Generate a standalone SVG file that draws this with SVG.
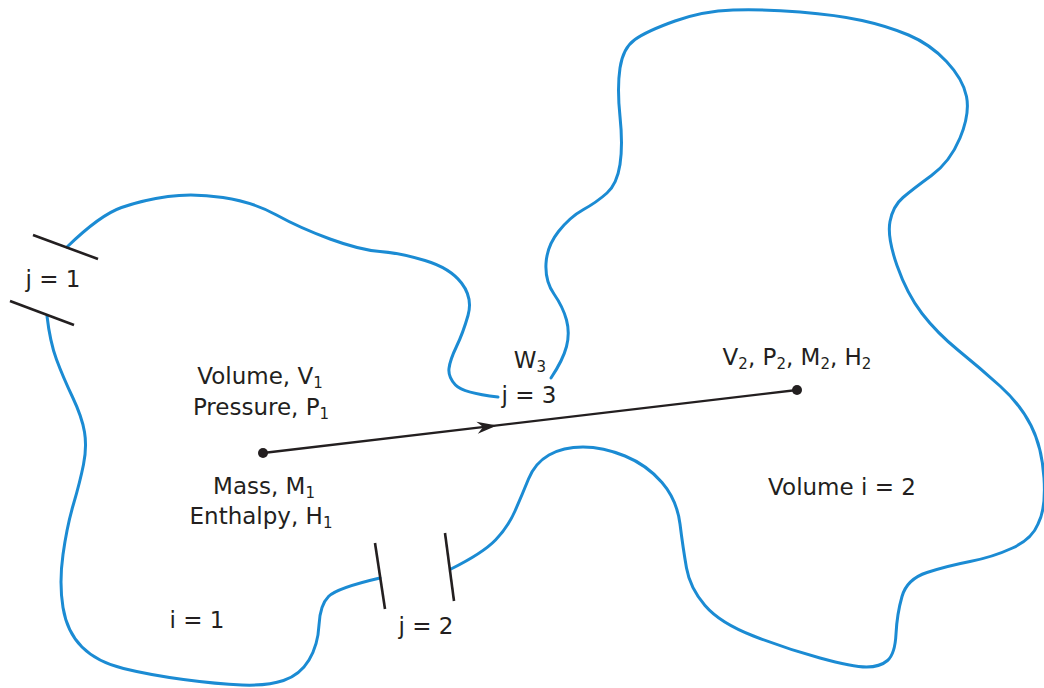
<svg xmlns="http://www.w3.org/2000/svg" width="1044" height="688" viewBox="0 0 1044 688">
<defs>
<style>
.wall{fill:none;stroke:#1b8bd3;stroke-width:3;stroke-linecap:round;stroke-linejoin:round}
.tick{stroke:#231f20;stroke-width:2.6;stroke-linecap:butt}
.lbl{font-family:"DejaVu Sans","Liberation Sans",sans-serif;font-size:23px;fill:#231f20;text-anchor:middle}
.sub{font-size:15px}
.conn{stroke:#231f20;stroke-width:2.4;fill:none}
.dot{fill:#231f20}
</style>
</defs>
<rect width="1044" height="688" fill="#ffffff"/>
<g id="volume-1">
<path class="wall" d="M67,247 Q100,215 121.5,207.5 Q143,200 168,196.5 Q193,193 223,197.5 Q253,202 276.5,215 Q300,228 330,239 Q360,250 380,251.5 Q400,253 425,260.5 Q450,268 461.5,283 Q473,298 468,315.5 Q463,333 456.5,346.5 Q450,360 449,368.5 Q448,377 455.5,385 Q463,393 498,397"/>
<path class="wall" d="M47,316 Q50,342 56.5,359.5 Q63,377 72.5,397 Q82,417 84.5,432 Q87,447 83.5,464.5 Q80,482 73.5,504 Q67,526 63,554.5 Q59,583 63,607.5 Q67,632 82,647 Q97,662 123.5,668.5 Q150,675 183.5,679.5 Q217,684 242,685 Q267,686 283.5,680.5 Q300,675 309,660 Q318,645 319,625 Q320,605 328.5,596.5 Q337,588 380,578"/>
<text class="lbl" x="260" y="384">Volume, V<tspan class="sub" dy="4">1</tspan></text>
<text class="lbl" x="261" y="415">Pressure, P<tspan class="sub" dy="4">1</tspan></text>
<text class="lbl" x="264" y="494">Mass, M<tspan class="sub" dy="4">1</tspan></text>
<text class="lbl" x="261" y="524">Enthalpy, H<tspan class="sub" dy="4">1</tspan></text>
<text class="lbl" x="197" y="628">i = 1</text>
</g>
<g id="volume-2">
<path class="wall" d="M451,569 Q483,553 495.5,540 Q508,527 515,511 Q522,495 528.5,479 Q535,463 549,455 Q563,447 583,447 Q603,447 625,456 Q647,465 662,482.5 Q677,500 680,524 Q683,548 686.5,568 Q690,588 705,605.5 Q720,623 753.5,636 Q787,649 820,658 Q853,667 866.5,667 Q880,667 887.5,660.5 Q895,654 896,634 Q897,614 902,596.5 Q907,579 927,572.5 Q947,566 970,561.5 Q993,557 1012.5,548 Q1032,539 1038,524 Q1046,509 1044,478 Q1042,447 1031,425.5 Q1020,404 1000,386 Q980,368 958.5,350.5 Q937,333 922,313.5 Q907,294 897,265.5 Q887,237 890,221.5 Q893,206 903,197.5 Q913,189 931.5,175.5 Q950,162 960,138 Q970,114 966.5,96.5 Q963,79 946.5,61.5 Q930,44 908.5,35 Q887,26 862,20.5 Q837,15 800,12 Q763,9 733,10 Q703,11 675,21 Q647,31 635,39.5 Q623,48 620,68 Q617,88 620,116.5 Q623,145 620,164.5 Q617,184 607,193 Q597,202 583.5,209.5 Q570,217 558.5,231.5 Q547,246 546,263.5 Q545,281 554,294 Q563,307 566.5,320 Q570,333 566.5,346.5 Q563,360 551,378"/>
<text class="lbl" x="797" y="365">V<tspan class="sub" dy="4">2</tspan><tspan dy="-4">, P</tspan><tspan class="sub" dy="4">2</tspan><tspan dy="-4">, M</tspan><tspan class="sub" dy="4">2</tspan><tspan dy="-4">, H</tspan><tspan class="sub" dy="4">2</tspan></text>
<text class="lbl" x="842" y="495">Volume i = 2</text>
</g>
<g id="junction-j1">
<line class="tick" x1="33" y1="235" x2="98" y2="259"/>
<line class="tick" x1="10" y1="301" x2="74" y2="325"/>
<text class="lbl" x="53" y="287">j = 1</text>
</g>
<g id="junction-j2">
<line class="tick" x1="375" y1="543" x2="385" y2="609"/>
<line class="tick" x1="445" y1="533" x2="454" y2="601"/>
<text class="lbl" x="426" y="634">j = 2</text>
</g>
<g id="junction-j3">
<text class="lbl" x="530" y="368">W<tspan class="sub" dy="4">3</tspan></text>
<text class="lbl" x="529" y="403">j = 3</text>
</g>
<g id="connectors">
<line class="conn" x1="263" y1="453" x2="797" y2="390"/>
<polygon class="dot" points="497,425.4 477.8,433.7 483.1,427 476.4,421.8"/>
<circle class="dot" cx="263" cy="453" r="5"/>
<circle class="dot" cx="797" cy="390" r="5"/>
</g>
</svg>
